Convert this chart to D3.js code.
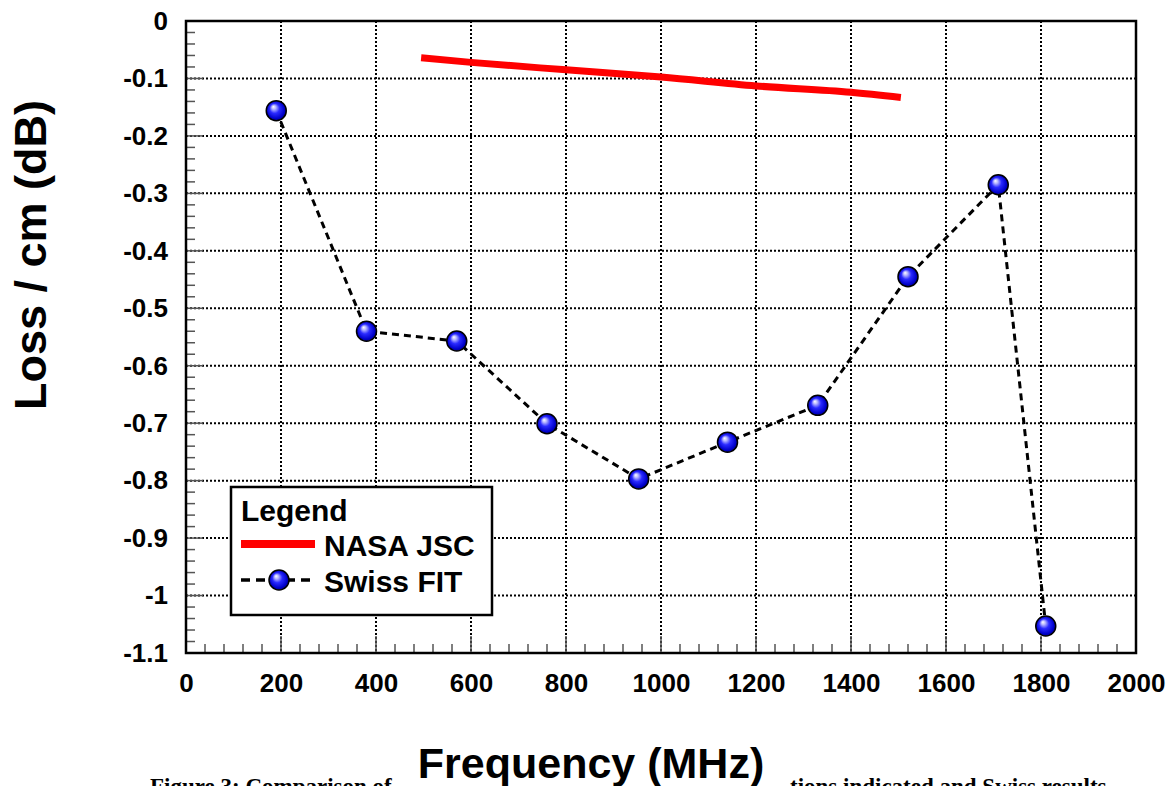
<!DOCTYPE html>
<html>
<head>
<meta charset="utf-8">
<script src="https://cdn.jsdelivr.net/npm/d3@7"></script>
<style>
html,body{margin:0;padding:0;background:#fff;}
svg{display:block;}
text{font-family:"Liberation Sans",Arial,sans-serif;font-weight:bold;}
</style>
</head>
<body>
<svg id="chart" width="1171" height="786"></svg>
<script>
// ---- data ----
const swissFreq = [190, 380, 570, 760, 953, 1140, 1330, 1520, 1710, 1810];
const swissLoss = [-0.156, -0.540, -0.557, -0.701, -0.797, -0.733, -0.669, -0.445, -0.285, -1.053];
const nasaFreq = [495, 600, 800, 1000, 1200, 1400, 1505];
const nasaLoss = [-0.064, -0.072, -0.085, -0.0975, -0.113, -0.124, -0.133];
const xTicks = [0, 200, 400, 600, 800, 1000, 1200, 1400, 1600, 1800, 2000];
const yTicks = [0, -0.1, -0.2, -0.3, -0.4, -0.5, -0.6, -0.7, -0.8, -0.9, -1, -1.1];
const yTickLabels = ["0", "-0.1", "-0.2", "-0.3", "-0.4", "-0.5", "-0.6", "-0.7", "-0.8", "-0.9", "-1", "-1.1"];
const legendLabels = ["NASA JSC", "Swiss FIT"];

const svg = d3.select("#chart");
const L = 186, R = 1136, T = 21, B = 653;
const x = d3.scaleLinear().domain([0, 2000]).range([L, R]);
const y = d3.scaleLinear().domain([0, -1.1]).range([T, B]);

// gradient for spheres
const defs = svg.append("defs");
const grad = defs.append("radialGradient").attr("id", "ball")
  .attr("cx", "50%").attr("cy", "50%").attr("r", "55%")
  .attr("fx", "35%").attr("fy", "30%");
grad.append("stop").attr("offset", "0%").attr("stop-color", "#ffffff");
grad.append("stop").attr("offset", "18%").attr("stop-color", "#b8b8ff");
grad.append("stop").attr("offset", "45%").attr("stop-color", "#2a2aff");
grad.append("stop").attr("offset", "80%").attr("stop-color", "#0000c8");
grad.append("stop").attr("offset", "100%").attr("stop-color", "#000070");

// caption fragments (cut off at the bottom edge, as in the source figure)
svg.append("text").attr("x", 150).attr("y", 794)
  .style("font-family", "'Liberation Serif','Times New Roman',serif").style("font-size", "23px")
  .text("Figure 3:  Comparison of");
svg.append("text").attr("x", 790).attr("y", 794)
  .style("font-family", "'Liberation Serif','Times New Roman',serif").style("font-size", "23px")
  .text("tions indicated and Swiss results");

// grid lines
const grid = svg.append("g");
xTicks.slice(1, -1).forEach(v => {
  grid.append("line").attr("x1", x(v)).attr("x2", x(v)).attr("y1", T).attr("y2", B)
    .attr("stroke", "#000").attr("stroke-width", 2).attr("stroke-dasharray", "2,2");
});
yTicks.slice(1, -1).forEach(v => {
  grid.append("line").attr("x1", L).attr("x2", R).attr("y1", y(v)).attr("y2", y(v))
    .attr("stroke", "#000").attr("stroke-width", 2).attr("stroke-dasharray", "2,2");
});

// minor / major inner ticks
const tk = svg.append("g").attr("stroke", "#555").attr("stroke-width", 1.5);
d3.range(0, 2001, 40).forEach(v => {
  const major = v % 200 === 0;
  tk.append("line").attr("x1", x(v)).attr("x2", x(v)).attr("y1", B).attr("y2", B - (major ? 17 : 9));
});
d3.range(0, 56).forEach(i => {
  const v = -i * 0.02;
  const major = i % 5 === 0;
  tk.append("line").attr("x1", L).attr("x2", L + (major ? 17 : 9)).attr("y1", y(v)).attr("y2", y(v));
});

// frame
svg.append("rect").attr("x", L).attr("y", T).attr("width", R - L).attr("height", B - T)
  .attr("fill", "none").attr("stroke", "#000").attr("stroke-width", 2.5);

// axes labels via d3 axes
const xAxis = d3.axisBottom(x).tickValues(xTicks).tickSize(0).tickPadding(21).tickFormat(d3.format("d"));
const gx = svg.append("g").attr("transform", `translate(0,${B})`).call(xAxis);
gx.select(".domain").remove();
gx.selectAll("text").style("font-size", "26px").style("font-weight", "bold")
  .style("font-family", "'Liberation Sans',Arial,sans-serif").attr("fill", "#000");

const yAxis = d3.axisLeft(y).tickValues(yTicks).tickSize(0).tickPadding(18)
  .tickFormat((d, i) => yTickLabels[i]);
const gy = svg.append("g").attr("transform", `translate(${L},0)`).call(yAxis);
gy.select(".domain").remove();
gy.selectAll("text").style("font-size", "26px").style("font-weight", "bold")
  .style("font-family", "'Liberation Sans',Arial,sans-serif").attr("fill", "#000");

// NASA line
const nasa = nasaFreq.map((f, i) => [f, nasaLoss[i]]);
svg.append("path").datum(nasa)
  .attr("d", d3.line().x(d => x(d[0])).y(d => y(d[1])).curve(d3.curveMonotoneX))
  .attr("fill", "none").attr("stroke", "#ff0000").attr("stroke-width", 7);

// Swiss line
const swiss = swissFreq.map((f, i) => [f, swissLoss[i]]);
svg.append("path").datum(swiss)
  .attr("d", d3.line().x(d => x(d[0])).y(d => y(d[1])))
  .attr("fill", "none").attr("stroke", "#000").attr("stroke-width", 3).attr("stroke-dasharray", "7,5");
svg.append("g").selectAll("circle").data(swiss).join("circle")
  .attr("cx", d => x(d[0])).attr("cy", d => y(d[1])).attr("r", 10)
  .attr("fill", "url(#ball)").attr("stroke", "#000").attr("stroke-width", 1.5);

// legend
const lg = svg.append("g");
lg.append("rect").attr("x", 231).attr("y", 487).attr("width", 261).attr("height", 128)
  .attr("fill", "#fff").attr("stroke", "#000").attr("stroke-width", 2.5);
lg.append("text").attr("x", 241).attr("y", 521).style("font-size", "30px").text("Legend");
lg.append("line").attr("x1", 241).attr("x2", 315).attr("y1", 544).attr("y2", 544)
  .attr("stroke", "#ff0000").attr("stroke-width", 8);
lg.append("text").attr("x", 324).attr("y", 556).style("font-size", "30px").text(legendLabels[0]);
lg.append("line").attr("x1", 241).attr("x2", 315).attr("y1", 580).attr("y2", 580)
  .attr("stroke", "#000").attr("stroke-width", 3.5).attr("stroke-dasharray", "9,6");
lg.append("circle").attr("cx", 279).attr("cy", 580).attr("r", 10)
  .attr("fill", "url(#ball)").attr("stroke", "#000").attr("stroke-width", 1.5);
lg.append("text").attr("x", 324).attr("y", 592).style("font-size", "30px").text(legendLabels[1]);

// axis titles
svg.append("rect").attr("x", 412).attr("y", 738).attr("width", 358).attr("height", 48).attr("fill", "#fff");
svg.append("text").attr("x", 591).attr("y", 778).attr("text-anchor", "middle")
  .style("font-size", "43px").text("Frequency (MHz)");
svg.append("text").attr("transform", "translate(46,255) rotate(-90)").attr("text-anchor", "middle")
  .style("font-size", "45px").text("Loss / cm (dB)");
</script>
</body>
</html>
